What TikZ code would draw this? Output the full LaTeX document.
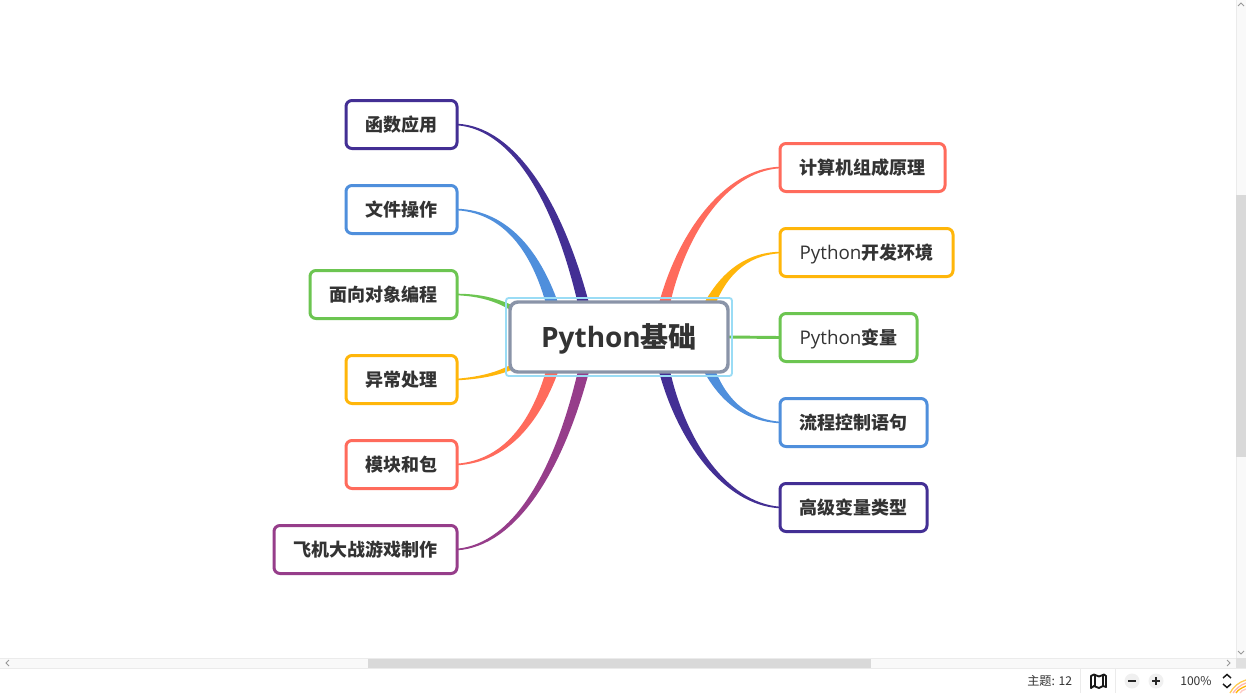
\documentclass[tikz,border=0pt]{standalone}
\usepackage{fontspec}
\setmainfont{Open Sans}
\newfontfamily\cjk{Noto Sans CJK SC}
\usetikzlibrary{calc}
\pgfdeclarelayer{bg}
\pgfdeclarelayer{br}
\pgfsetlayers{bg,br,main}
\definecolor{cpurple}{HTML}{432F94}
\definecolor{cblue}{HTML}{4F8FDC}
\definecolor{cgreen}{HTML}{6CC551}
\definecolor{cyellow}{HTML}{FFB60A}
\definecolor{cred}{HTML}{FF6B5C}
\definecolor{cmag}{HTML}{963D8A}
\definecolor{cgrey}{HTML}{8A94A8}
\definecolor{ctext}{HTML}{333333}
\definecolor{csel}{HTML}{9ADCF5}
\tikzset{
 topicbox/.style={draw=#1,line width=2.25pt,rounded corners=4.5pt,fill=white,inner sep=0pt,outer sep=0pt,text=ctext,font=\fontsize{13.5}{16}\selectfont\bfseries\cjk,anchor=north west,minimum height=36pt},
 uitext/.style={inner sep=0pt,font=\fontsize{9.1}{11}\selectfont\cjk,text=black!80},
 scrollarrow/.style={draw=black!40,line width=.6pt},
}
% \taper{colour}{child}{end rel. to root NW}{c1}{c2}{n1}{n2}{n3}
\newcommand{\taper}[8]{\fill[#1] ($(#2)+(0,-.8)$) .. controls ($#4+#6$) and ($#5+#7$) .. ($(root.north west)+#3+#8$) -- ($(root.north west)+#3-#8$) .. controls ($#5-#7$) and ($#4-#6$) .. ($(#2)+(0,.8)$) -- cycle;}
\newcommand{\topic}[6]{\node[topicbox=#2,minimum width=#5*0.75pt] (#1) at (#3,#4) {#6};}
\newcommand{\latin}[1]{\smash{\raisebox{-5.1pt}{{\rmfamily\mdseries\fontsize{14.1}{16}\selectfont #1}\hspace{0pt}}}}
\newcommand{\lowered}[1]{\smash{\raisebox{-5.1pt}{#1}}}
\begin{document}
\begin{tikzpicture}[x=0.75pt,y=-0.75pt]
\useasboundingbox (0,0) rectangle (1246,693);
\begin{pgfonlayer}{bg}
\fill[white] (0,0) rectangle (1246,693);
\end{pgfonlayer}
% selection frame and central topic
\node[draw=csel,line width=1.4pt,rounded corners=2pt,minimum width=169.5pt,minimum height=58.5pt,inner sep=0pt,outer sep=0pt,anchor=north west] (sel) at (506,298) {};
\node[draw=cgrey,line width=2.6pt,rounded corners=6pt,fill=white,inner sep=0pt,outer sep=0pt,minimum width=163.5pt,minimum height=52.5pt,anchor=north west,text=ctext,font=\fontsize{21}{25}\selectfont\bfseries] (root) at (510,302) {\smash{\raisebox{-7.7pt}{Python\cjk 基础}}};
% topics
\topic{ta}{cpurple}{346}{100.5}{111}{函数应用}
\topic{tb}{cblue}{346}{185.5}{111}{文件操作}
\topic{tc}{cgreen}{310}{270.5}{147}{面向对象编程}
\topic{td}{cyellow}{346}{355.5}{111}{异常处理}
\topic{te}{cred}{346}{440.5}{111}{模块和包}
\topic{tf}{cmag}{274}{525.5}{183}{飞机大战游戏制作}
\topic{ra}{cred}{780}{143.5}{165}{计算机组成原理}
\topic{rb}{cyellow}{780}{228.5}{173}{\lowered{{\rmfamily\mdseries\fontsize{14.1}{16}\selectfont Python}开发环境}}
\topic{rc}{cgreen}{780}{313.5}{137}{\lowered{{\rmfamily\mdseries\fontsize{14.1}{16}\selectfont Python}变量}}
\topic{rd}{cblue}{780}{398.5}{147}{流程控制语句}
\topic{re}{cpurple}{780}{483.5}{147}{高级变量类型}
% branches
\begin{pgfonlayer}{br}
\taper{cpurple}{ta.east}{(75,8)}{(515,128)}{(560,205)}{(.7,-1.6)}{(3.6,-1.6)}{(5.5,-1)}
\taper{cblue}{tb.east}{(44,8)}{(508,212)}{(538,255)}{(.6,-1.5)}{(3.5,-2.5)}{(6,-1.5)}
\taper{cgreen}{tc.east}{(2,6)}{(480,295)}{(497,300)}{(.2,-1.2)}{(.5,-1.6)}{(.7,-2.5)}
\taper{cyellow}{td.east}{(2,65)}{(480,378)}{(497,374)}{(-.2,-1.2)}{(-.5,-1.6)}{(-.7,-2.5)}
\taper{cred}{te.east}{(44,63)}{(508,461)}{(538,418)}{(-.6,-1.5)}{(-3.5,-2.5)}{(-6,-1.5)}
\taper{cmag}{tf.east}{(75,63)}{(515,545)}{(560,470)}{(-.7,-1.6)}{(-3.6,-1.6)}{(-5.5,-1)}
\taper{cred}{ra.west}{(153,8)}{(725,170)}{(680,235)}{(-.6,-1.5)}{(-3.5,-2)}{(-5.5,-1)}
\taper{cyellow}{rb.west}{(197,8)}{(745,254)}{(722,275)}{(-.5,-1.3)}{(-2.5,-2)}{(-5.5,-2)}
\draw[cgreen,line width=2.2pt] (root.east) -- (rc.west);
\taper{cblue}{rd.west}{(197,63)}{(745,420)}{(722,400)}{(.5,-1.3)}{(2.5,-2)}{(5.5,-2)}
\taper{cpurple}{re.west}{(153,63)}{(725,504)}{(680,440)}{(.6,-1.5)}{(3.5,-2)}{(5.5,-1)}
\end{pgfonlayer}
% window chrome
\fill[black!2.5] (1236,0) rectangle (1246,658);
\draw[black!8,line width=.75pt] (1236,0) -- (1236,668);
\fill[black!15] (1236,195) rectangle (1246,457);
\fill[black!2.5] (0,658) rectangle (1236,668);
\draw[black!8,line width=.75pt] (0,658) -- (1236,658) (0,668.5) -- (1246,668.5);
\fill[black!15] (368,658.5) rectangle (871,668);
\fill[black!12] (1236,658) rectangle (1246,668);
\draw[scrollarrow] (9,660) -- (6,663) -- (9,666);
\draw[scrollarrow] (1227,660) -- (1230,663) -- (1227,666);
\draw[scrollarrow] (1238,6) -- (1241,3) -- (1244,6);
\draw[scrollarrow] (1238,651) -- (1241,654) -- (1244,651);
\draw[black!8,line width=.75pt] (1080.5,669) -- (1080.5,693) (1115.5,669) -- (1115.5,693);
\node[uitext,anchor=west] (status) at (1027,681) {主题: 12};
\draw[black!90,line width=1.4pt,line join=round] (1091,676) -- (1094,674.5) -- (1099,676.5) -- (1104,674.5) -- (1106,676) -- (1106,687) -- (1103,686) -- (1099,688) -- (1094,686) -- (1091,688) -- cycle (1095,675) -- (1095,686) (1103,675) -- (1103,686);
\fill[black!6] (1132,681) circle[radius=7.5] (1156,681) circle[radius=7.5];
\draw[black!85,line width=1.1pt] (1128,681) -- (1136,681) (1152,681) -- (1160,681) (1156,677) -- (1156,685);
\node[uitext,anchor=west] (zoomv) at (1180,681) {100\%};
\draw[black!90,line width=1.1pt] (1223,678) -- (1227,674.5) -- (1231,678) (1223,684) -- (1227,687.5) -- (1231,684);
\begin{scope}
\clip (1228,678) rectangle (1246,693);
\draw[cyellow!70,line width=1pt] (1230,693) .. controls (1233,687) and (1239,682) .. (1246,680);
\draw[cred!50,line width=1pt] (1233,693) .. controls (1236,689) and (1240,685) .. (1246,683);
\draw[cyellow,line width=1pt] (1236,693) .. controls (1238,690) and (1241,688) .. (1246,686);
\draw[cred!35,line width=1pt] (1240,693) .. controls (1241,691) and (1243,690) .. (1246,689);
\end{scope}
\end{tikzpicture}
\end{document}
